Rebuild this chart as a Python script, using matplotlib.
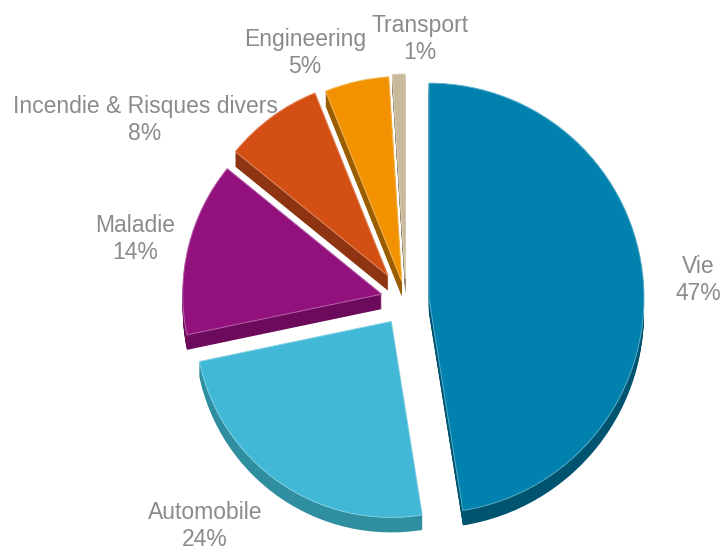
import matplotlib.pyplot as plt
from matplotlib.colors import to_rgb

# donnees du graphique
categories = ["Vie", "Automobile", "Maladie", "Incendie & Risques divers", "Engineering", "Transport"]
parts = [47, 24, 14, 8, 5, 1]
pct_labels = ["47%", "24%", "14%", "8%", "5%", "1%"]

top_colors = ["#0081ae", "#41b8d5", "#92117d", "#d44f14", "#f29200", "#c9b99b"]
side_colors = ["#00546f", "#2f8fa0", "#6c0a5c", "#8e3412", "#9a5e00", "#8c7d63"]

# mise en page (pixels, origine en haut a gauche)
W, H = 724, 551
cx, cy = 406, 300
rayons = [215, 196, 199, 197, 205, 205]     # la perspective grossit un peu "Vie"
explode = [23, 26, 25, 30, 19, 21]          # eclatement en pixels
epaisseur = 15
label_pos = [(698, 280), (205, 526), (135, 239), (145, 120), (305, 53), (420, 39)]


def eclaircir(c, f=0.35):
    r, g, b = to_rgb(c)
    return (r + (1 - r) * f, g + (1 - g) * f, b + (1 - b) * f)


fig = plt.figure(figsize=(W / 100, H / 100), dpi=100)
ax = fig.add_axes([0, 0, 1, 1])


def dessiner(couleurs, dy, bord=None):
    wedges, _ = ax.pie(parts, colors=couleurs, radius=1, center=(cx, H - cy - dy),
                       startangle=90, counterclock=False, explode=explode,
                       wedgeprops=dict(linewidth=0))
    for w, r, c in zip(wedges, rayons, couleurs):
        w.set_radius(r)
        if bord is not None:
            w.set_edgecolor(eclaircir(c))
            w.set_linewidth(bord)


# cote des parts (effet 3D) : copies sombres empilees vers le bas
for k in range(epaisseur, 0, -1):
    dessiner(side_colors, k)

# dessus des parts
dessiner(top_colors, 0, bord=0.7)

# etiquettes
for nom, pct, (x, y) in zip(categories, pct_labels, label_pos):
    ax.text(x, H - y, nom + "\n" + pct, ha="center", va="center",
            fontsize=16.5, color="#8b8b8b", linespacing=1.2,
            family=["Liberation Sans", "DejaVu Sans"])

ax.set_xlim(0, W)
ax.set_ylim(0, H)
ax.set_aspect("equal")
ax.axis("off")

fig.savefig("out.png", dpi=100)
